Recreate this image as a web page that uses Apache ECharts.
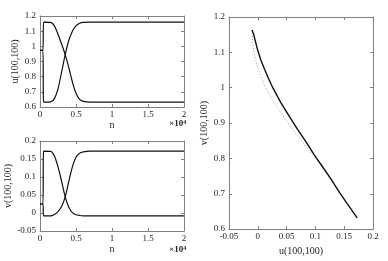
<!DOCTYPE html>
<html>
<head>
<meta charset="utf-8">
<script src="https://cdn.jsdelivr.net/npm/echarts@6/dist/echarts.min.js"></script>
<style>
html,body{margin:0;padding:0;background:#fff;}
#c{width:388px;height:261px;}
</style>
</head>
<body>
<div id="c"></div>
<script>
// time axis (n, in units of 10^4)
const nSteps = [0, 0.04, 0.05, 0.15, 0.2, 0.25, 0.3, 0.35, 0.4, 0.45, 0.5, 0.55, 0.6, 0.7, 2];
// u(100,100) branches
const uFall = [0.974, 0.974, 1.16, 1.158, 1.135, 1.08, 1.015, 0.945, 0.86, 0.765, 0.69, 0.65, 0.637, 0.632, 0.632];
const uRise = [0.974, 0.974, 0.632, 0.634, 0.655, 0.72, 0.83, 0.945, 1.04, 1.1, 1.135, 1.152, 1.158, 1.16, 1.16];
// v(100,100) branches
const vFall = [0.025, 0.025, 0.172, 0.171, 0.158, 0.128, 0.088, 0.045, 0.016, 0.001, -0.005, -0.007, -0.008, -0.008, -0.008];
const vRise = [0.025, 0.025, -0.008, -0.008, -0.004, 0.004, 0.018, 0.045, 0.088, 0.128, 0.155, 0.166, 0.17, 0.172, 0.172];
// phase plane
const phaseSolidX = [-0.01, -0.007, -0.004, 0.0, 0.005, 0.011, 0.018, 0.026, 0.04, 0.055, 0.069, 0.084, 0.098, 0.113, 0.128, 0.142, 0.157, 0.1725];
const phaseSolidY = [1.163, 1.15, 1.13, 1.105, 1.08, 1.055, 1.028, 1.0, 0.958, 0.918, 0.882, 0.846, 0.81, 0.775, 0.739, 0.703, 0.668, 0.632];
const phaseDotX = [-0.01, -0.009, -0.007, -0.004, 0.0, 0.006, 0.0115, 0.024, 0.0376, 0.049, 0.061, 0.075, 0.09, 0.102, 0.113];
const phaseDotY = [1.163, 1.13, 1.105, 1.08, 1.055, 1.03, 1.007, 0.97, 0.935, 0.908, 0.882, 0.85, 0.819, 0.797, 0.775];
// axis ranges / ticks
const nAxis = {min: 0, max: 2, interval: 0.5};
const uAxis = {min: 0.6, max: 1.2, interval: 0.1};
const vAxis = {min: -0.05, max: 0.2, interval: 0.05};

const zip = (a, b) => a.map((x, i) => [x, b[i]]);

const FONT = 'Liberation Serif';
const frame = '#7f7f7f';
const txt = '#262626';

function mainAxis(pos, rng, gridIndex, name, nameGap, margin) {
  return Object.assign({
    type: 'value', gridIndex, position: pos,
    name, nameLocation: 'middle', nameGap,
    nameTextStyle: {fontFamily: FONT, fontSize: 10, color: txt},
    axisLine: {show: true, onZero: false, lineStyle: {color: frame, width: 1}},
    axisTick: {show: true, inside: true, length: 3, lineStyle: {color: frame}},
    axisLabel: {fontFamily: FONT, fontSize: 9, color: txt, margin: margin},
    splitLine: {show: false}
  }, rng);
}
function sideAxis(pos, rng, gridIndex) {
  return Object.assign({
    type: 'value', gridIndex, position: pos,
    axisLine: {show: true, onZero: false, lineStyle: {color: frame, width: 1}},
    axisTick: {show: true, inside: true, length: 3, lineStyle: {color: frame}},
    axisLabel: {show: false},
    splitLine: {show: false}
  }, rng);
}

function ser(xi, yi, data, extra) {
  return Object.assign({
    type: 'line', xAxisIndex: xi, yAxisIndex: yi, data,
    showSymbol: false, symbol: 'none', animation: false,
    lineStyle: {color: '#111', width: 1.2}
  }, extra || {});
}

const sup = {
  a: {fontFamily: FONT, fontSize: 9, color: txt, verticalAlign: 'bottom'},
  b: {fontFamily: FONT, fontSize: 6, color: txt, verticalAlign: 'top'}
};

const option = {
  animation: false,
  grid: [
    {left: 40, top: 16, width: 144, height: 91},
    {left: 40, top: 141, width: 144, height: 90},
    {left: 229, top: 17, width: 144, height: 213}
  ],
  xAxis: [
    mainAxis('bottom', nAxis, 0, 'n', 10, 3),
    sideAxis('top', nAxis, 0),
    mainAxis('bottom', nAxis, 1, 'n', 10, 3),
    sideAxis('top', nAxis, 1),
    mainAxis('bottom', vAxis, 2, 'u(100,100)', 11, 3),
    sideAxis('top', vAxis, 2)
  ],
  yAxis: [
    mainAxis('left', uAxis, 0, 'u(100,100)', 18, 4),
    sideAxis('right', uAxis, 0),
    mainAxis('left', vAxis, 1, 'v(100,100)', 18, 4),
    sideAxis('right', vAxis, 1),
    mainAxis('left', uAxis, 2, 'v(100,100)', 15, 4),
    sideAxis('right', uAxis, 2)
  ],
  title: [
    {text: '{a|×10}{b|4}', left: 169, top: 119, padding: 0, textStyle: {rich: sup}},
    {text: '{a|×10}{b|4}', left: 169, top: 245, padding: 0, textStyle: {rich: sup}}
  ],
  series: [
    ser(0, 0, zip(nSteps, uFall), {smooth: 0.3}),
    ser(0, 0, zip(nSteps, uRise), {smooth: 0.3}),
    ser(2, 2, zip(nSteps, vFall), {smooth: 0.3}),
    ser(2, 2, zip(nSteps, vRise), {smooth: 0.3}),
    ser(4, 4, zip(phaseDotX, phaseDotY), {lineStyle: {color: '#888', width: 0.8, type: [1, 2]}}),
    ser(4, 4, zip(phaseSolidX, phaseSolidY), {lineStyle: {color: '#111', width: 1.4}})
  ]
};

const chart = echarts.init(document.getElementById('c'), null, {renderer: 'canvas'});
chart.setOption(option);
</script>
</body>
</html>
